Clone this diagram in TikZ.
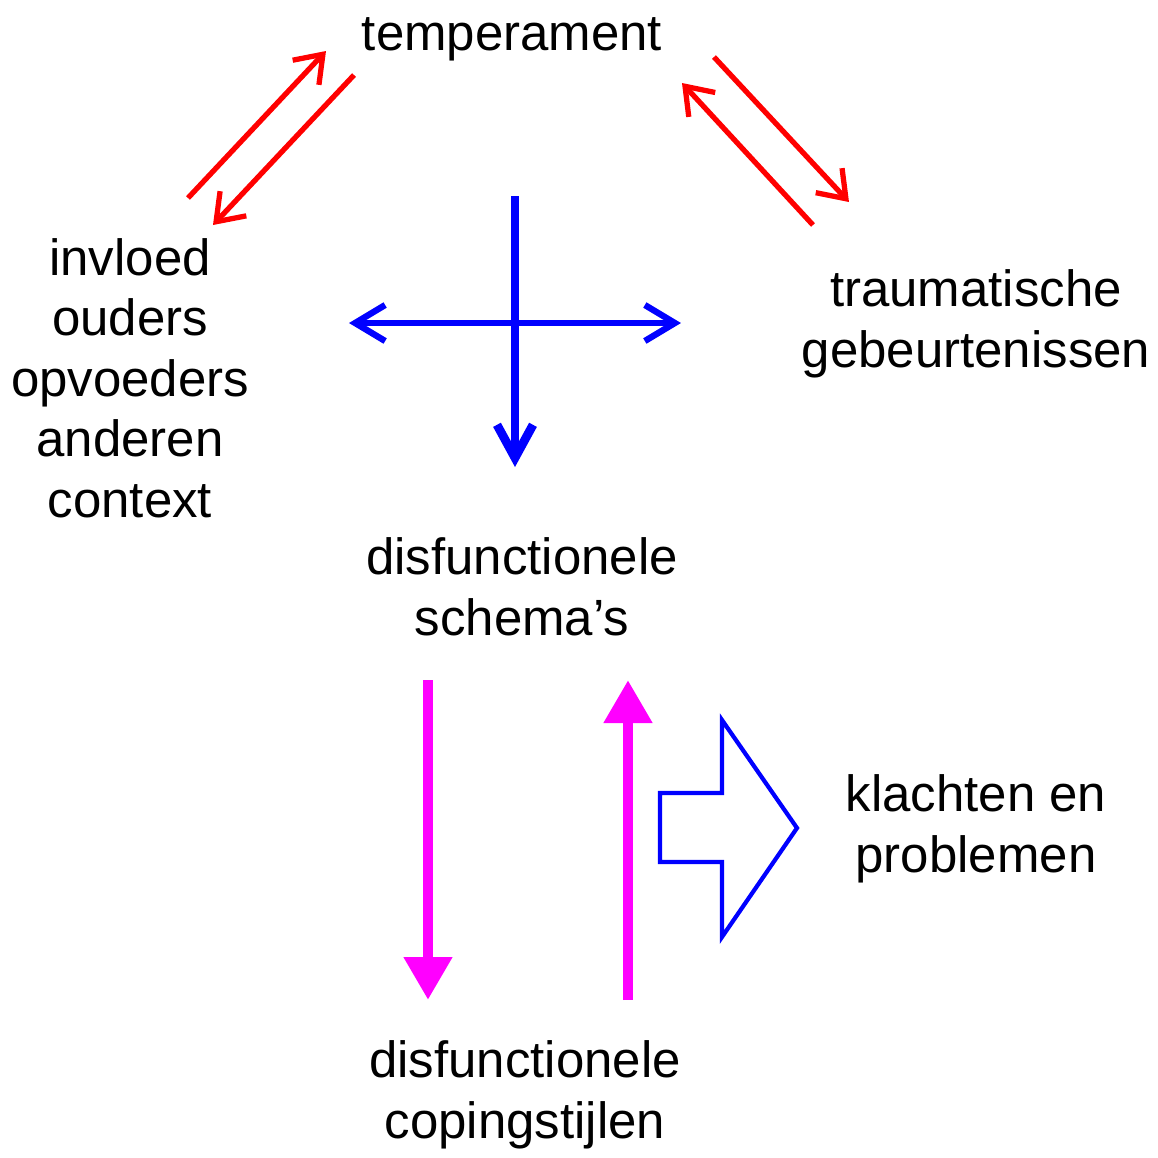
\documentclass[tikz,border=0pt]{standalone}
\usepackage{fontspec}
\setmainfont{Liberation Sans}
\usetikzlibrary{arrows.meta}
\definecolor{fuchsia}{RGB}{255,0,255}

\begin{document}
\begin{tikzpicture}[x=0.1mm,y=-0.1mm,
  txt/.style={align=center,anchor=base,inner sep=0pt,font=\fontsize{14.5}{17.2}\selectfont},
  redarrow/.style={draw=red,line width=1.5pt,-{Straight Barb[length=2.5mm,width=3.6mm]}},
  crossarrow/.style={draw=blue,line width=1.8pt,{Straight Barb[length=3mm,width=3.6mm]}-{Straight Barb[length=3mm,width=3.6mm]}},
  downarrow/.style={draw=blue,line width=2.5pt,-{Straight Barb[length=3.3mm,width=3.6mm]}},
  pinkarrow/.style={draw=fuchsia,line width=3.1pt,-{Triangle[length=4.3mm,width=4.6mm]}},
  blockarrow/.style={draw=blue,line width=1.2pt,line join=miter}]
\useasboundingbox (0,0) rectangle (1158,1158);

% base = laatste regel
\node[txt] (temp) at (512,50) {temperament};
\node[txt] (invloed) at (130,517) {invloed\\ouders\\opvoeders\\anderen\\context};
\node[txt] (trauma) at (976,367) {traumatische\\gebeurtenissen};
\node[txt] (schemas) at (522,635) {disfunctionele\\schema's};
\node[txt] (klachten) at (976,872) {klachten en\\problemen};
\node[txt] (coping) at (525,1138) {disfunctionele\\copingstijlen};

% rode pijlen
\coordinate (la1) at (188,198);
\coordinate (la2) at (326,51);
\coordinate (lb1) at (354,75);
\coordinate (lb2) at (213,225);
\coordinate (ra1) at (714,57);
\coordinate (ra2) at (849,202);
\coordinate (rb1) at (813,225);
\coordinate (rb2) at (682,83);
\draw[redarrow] (la1) -- (la2);
\draw[redarrow] (lb1) -- (lb2);
\draw[redarrow] (ra1) -- (ra2);
\draw[redarrow] (rb1) -- (rb2);

% blauw kruis
\coordinate (top) at (515,196);
\coordinate (bottom) at (515,467);
\coordinate (left) at (349,323);
\coordinate (right) at (681,323);
\draw[crossarrow] (left) -- (right);
\draw[downarrow] (top) -- (bottom);

% roze pijlen
\coordinate (pa1) at (428,680);
\coordinate (pa2) at (428,1000);
\coordinate (pb1) at (628,1000);
\coordinate (pb2) at (628,680);
\draw[pinkarrow] (pa1) -- (pa2);
\draw[pinkarrow] (pb1) -- (pb2);

% blokpijl
\draw[blockarrow] (660,793) -- (722,793) -- (722,720) -- (797,828) -- (722,937) -- (722,862) -- (660,862) -- cycle;

\end{tikzpicture}
\end{document}
